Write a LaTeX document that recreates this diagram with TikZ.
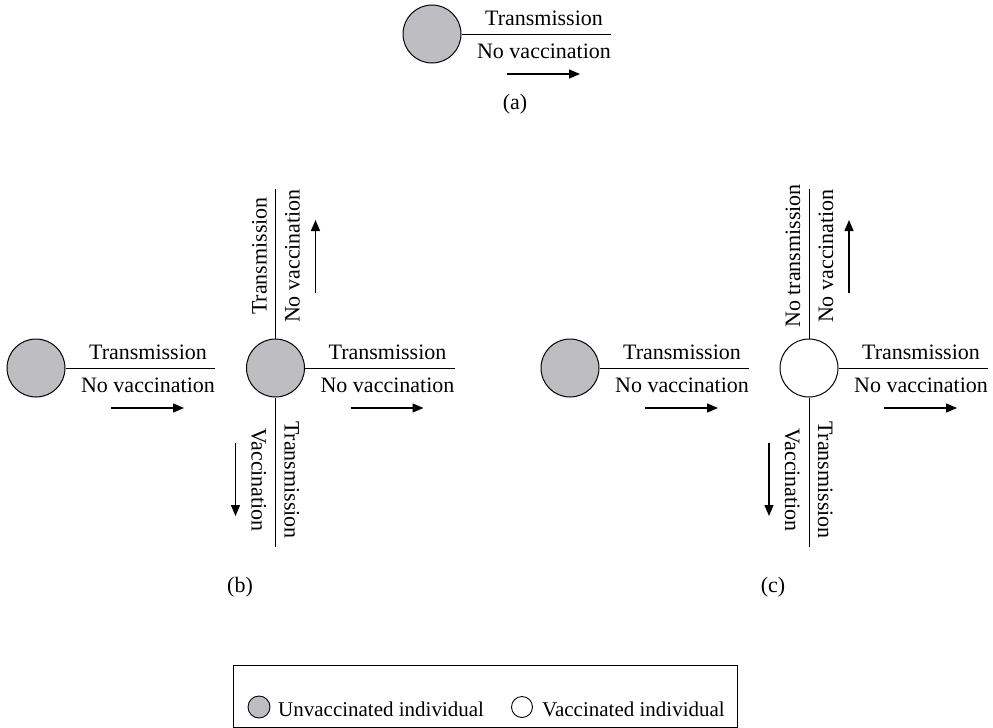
\documentclass[tikz,border=0pt]{standalone}
\usepackage{fontspec}
\setmainfont{Liberation Serif}
\usetikzlibrary{arrows.meta}
\definecolor{indgray}{RGB}{190,190,194}
\tikzset{
  lbl/.style={inner sep=0pt, font=\fontsize{22}{26}\selectfont},
  leglbl/.style={inner sep=0pt, font=\fontsize{21}{25}\selectfont},
  unvac/.style={circle, draw, line width=1pt, fill=indgray, minimum size=58pt, inner sep=0pt},
  vac/.style={circle, draw, line width=1pt, fill=white, minimum size=58pt, inner sep=0pt},
  smallunvac/.style={circle, draw, line width=0.9pt, fill=indgray, minimum size=22pt, inner sep=0pt},
  smallvac/.style={circle, draw, line width=0.9pt, fill=white, minimum size=21pt, inner sep=0pt},
  armline/.style={line width=1pt},
  arr/.style={line width=1.4pt, -{Triangle[length=11pt,width=9pt]}},
}
\newcommand\myarm[5]{%
  \begin{scope}[shift={(#1.center)}, rotate=#3]
    \coordinate (#2e) at (179,0);
    \coordinate (#2s) at (75,-40);
    \coordinate (#2t) at (148,-40);
    \node[lbl, transform shape, anchor=base] (#2a) at (112,9) {#4};
    \node[lbl, transform shape, anchor=base] (#2b) at (112,-24) {#5};
  \end{scope}
  \draw[armline] (#1.#3) -- (#2e);
  \draw[arr] (#2s) -- (#2t);
}
\begin{document}
\begin{tikzpicture}[x=1pt,y=1pt]
\useasboundingbox (0,0) rectangle (993,-728);
% (a)
\node[unvac] (ca) at (432,-34) {};
\myarm{ca}{aR}{0}{Transmission}{No vaccination}
\node[lbl] (la) at (515,-104) {(a)};
% (b)
\node[unvac] (bl) at (36,-368) {};
\node[unvac] (bc) at (275.5,-368) {};
\myarm{bl}{bL}{0}{Transmission}{No vaccination}
\myarm{bc}{bR}{0}{Transmission}{No vaccination}
\myarm{bc}{bU}{90}{Transmission}{No vaccination}
\myarm{bc}{bD}{-90}{Transmission}{Vaccination}
\node[lbl] (lb) at (240,-587) {(b)};
% (c)
\node[unvac] (cl) at (570,-368) {};
\node[vac] (cc) at (809,-368) {};
\myarm{cl}{cL}{0}{Transmission}{No vaccination}
\myarm{cc}{cR}{0}{Transmission}{No vaccination}
\myarm{cc}{cU}{90}{No transmission}{No vaccination}
\myarm{cc}{cD}{-90}{Transmission}{Vaccination}
\node[lbl] (lc) at (773,-587) {(c)};
% legend
\node[draw, line width=1pt, minimum width=504pt, minimum height=62pt, inner sep=0pt] (leg) at (485,-696) {};
\node[smallunvac] (lg1) at (259,-707) {};
\node[leglbl, anchor=base west] (lt1) at (278,-716) {Unvaccinated individual};
\node[smallvac] (lg2) at (522,-707) {};
\node[leglbl, anchor=base west] (lt2) at (542,-716) {Vaccinated individual};
\end{tikzpicture}
\end{document}
